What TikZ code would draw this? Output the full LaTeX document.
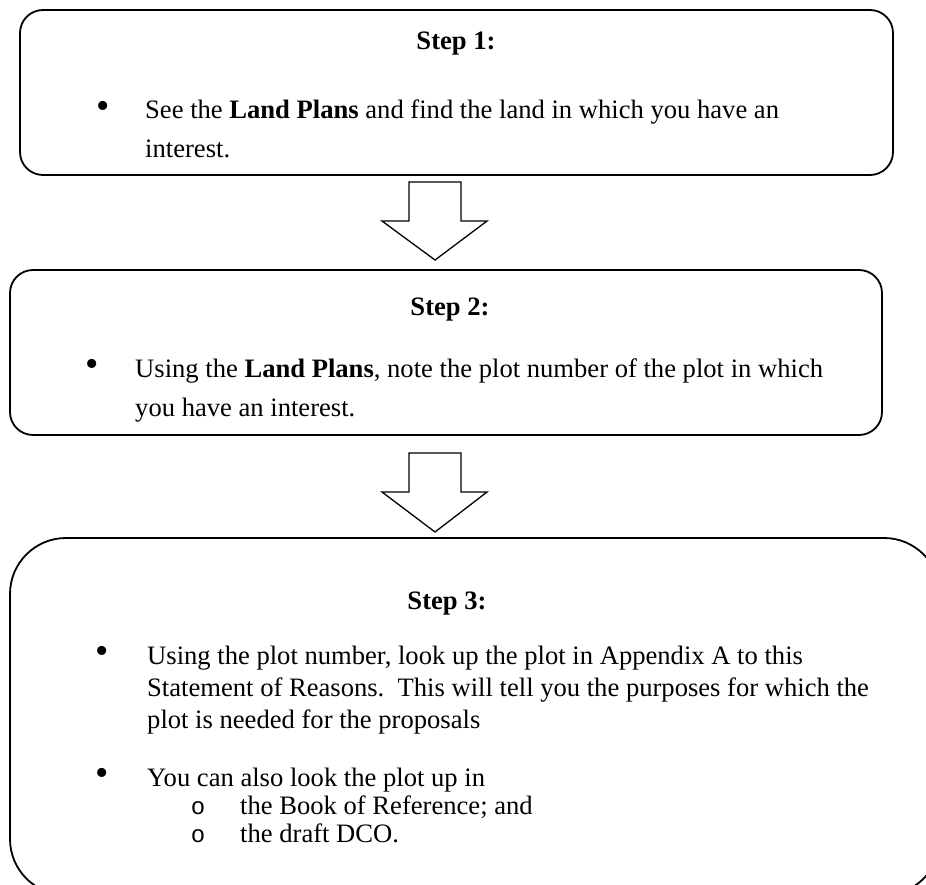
\documentclass[tikz,border=0pt]{standalone}
\usepackage{fontspec}
\setmainfont{Liberation Serif}
\newfontfamily\subbulletfont{Liberation Mono}
\begin{document}
\begin{tikzpicture}[x=1pt,y=-1pt,
  stepbox/.style={draw, line width=1.8pt, inner sep=0pt},
  txt/.style={anchor=base west, inner sep=0pt, font=\fontsize{26.6}{32}\selectfont},
  ttl/.style={anchor=base, inner sep=0pt, font=\fontsize{26.6}{32}\selectfont\bfseries},
  blt/.style={anchor=center, inner sep=0pt, font=\fontsize{38}{38}\selectfont},
  sblt/.style={anchor=base, inner sep=0pt, font=\fontsize{24}{32}\subbulletfont\addfontfeatures{FakeBold=0}},
  blockarrow/.style={draw, line width=1.3pt, line join=miter, fill=white}]
\clip (0,0) rectangle (926,885);
\fill[white] (0,0) rectangle (926,885);
% boxes
\node[stepbox, rounded corners=23pt, minimum width=873pt, minimum height=165pt] (box1) at (456.5,92.5) {};
\node[stepbox, rounded corners=23pt, minimum width=872pt, minimum height=165pt] (box2) at (446,352.5) {};
\node[stepbox, rounded corners=56pt, minimum width=930pt, minimum height=357pt] (box3) at (475,716.5) {};
% block arrows
\draw[blockarrow] (409,182) -- (461,182) -- (461,221) -- (487,221) -- (435,260) -- (382,221) -- (409,221) -- cycle;
\draw[blockarrow] (409,453) -- (461,453) -- (461,492) -- (487,492) -- (435,532) -- (382,492) -- (409,492) -- cycle;
% step 1
\node[ttl] (t1) at (456,50) {Step 1:};
\node[blt] (b1a) at (103,110) {\textbullet};
\node[txt] (l1a) at (145,119) {See the \textbf{Land Plans} and find the land in which you have an};
\node[txt] (l1b) at (145,158) {interest.};
% step 2
\node[ttl] (t2) at (450,316) {Step 2:};
\node[blt] (b2a) at (92,368) {\textbullet};
\node[txt] (l2a) at (135,377) {Using the \textbf{Land Plans}, note the plot number of the plot in which};
\node[txt] (l2b) at (135,416) {you have an interest.};
% step 3
\node[ttl] (t3) at (447,609) {Step 3:};
\node[blt] (b3a) at (102,655) {\textbullet};
\node[txt] (l3a) at (147,664) {Using the plot number, look up the plot in Appendix A to this};
\node[txt] (l3b) at (147,696) {Statement of Reasons.\ \ This will tell you the purposes for which the};
\node[txt] (l3c) at (147,728) {plot is needed for the proposals};
\node[blt] (b3b) at (102,777) {\textbullet};
\node[txt] (l3d) at (147,786) {You can also look the plot up in};
\node[sblt] (s3a) at (198,814) {o};
\node[txt] (l3e) at (240,814) {the Book of Reference; and};
\node[sblt] (s3b) at (198,842) {o};
\node[txt] (l3f) at (240,842) {the draft DCO.};
\end{tikzpicture}
\end{document}
